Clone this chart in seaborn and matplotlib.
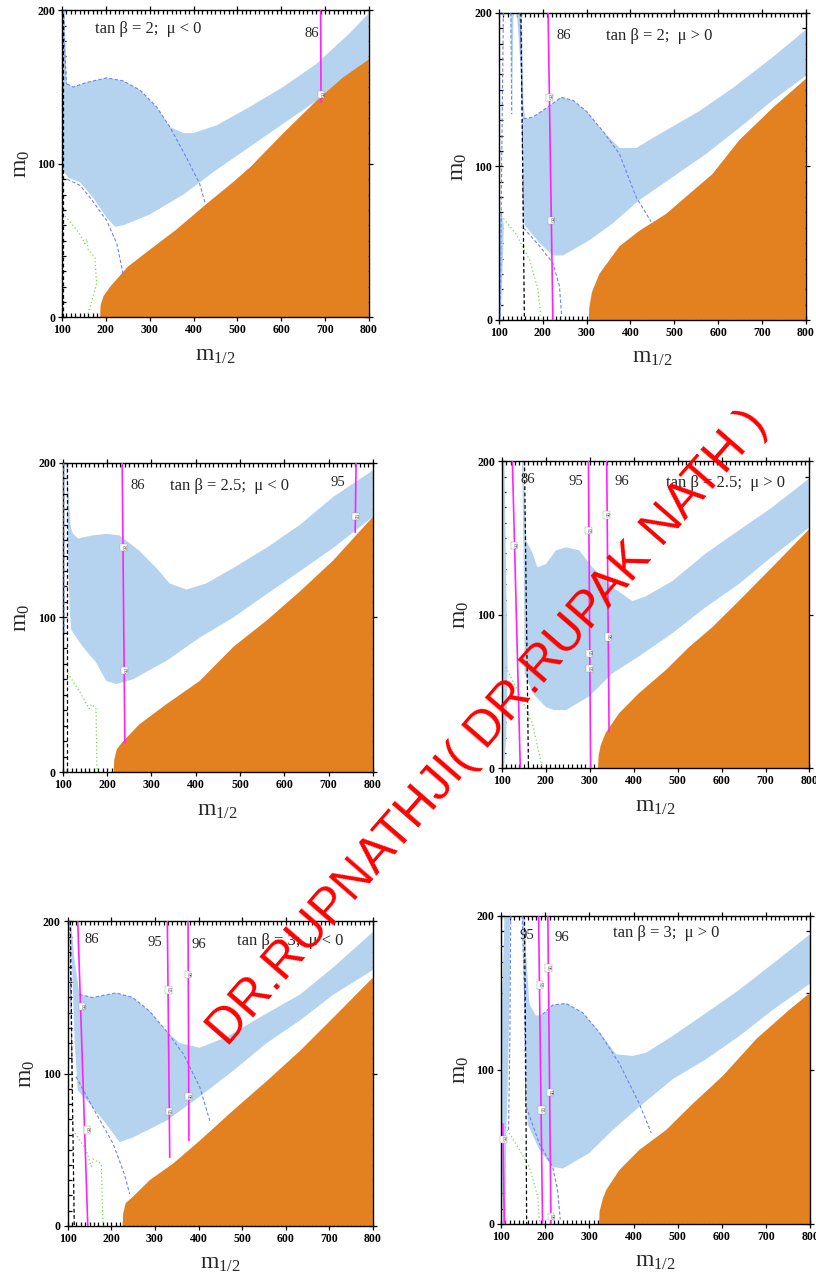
import matplotlib
matplotlib.use("Agg")
import matplotlib.pyplot as plt
from matplotlib.ticker import MultipleLocator
import seaborn as sns

sns.set_style("ticks")
plt.rcParams['font.family'] = ['Liberation Serif', 'DejaVu Serif']
plt.rcParams['mathtext.fontset'] = 'custom'
plt.rcParams['mathtext.rm'] = 'Liberation Serif'
plt.rcParams['mathtext.it'] = 'Liberation Serif:italic'

ORANGE = '#e38020'
BLUE = '#b5d3ee'
DASH_BLUE = '#6f82f0'
GREEN = '#77dd44'
MAGENTA = '#ff22ff'

# ---------------- panel 1 : tan b = 2, mu < 0 ----------------
p1_title = 'tan β = 2;  μ < 0'
p1_orange_x = [187, 188, 195, 210, 250, 300, 360, 430, 490, 530, 605, 680, 740, 800]
p1_orange_y = [0, 8, 14, 20, 33, 44, 57, 74, 88, 98, 120, 141, 156, 168]
p1_band_top_x = [100, 105, 108, 111, 126, 156, 202, 240, 278, 316, 346, 377, 400, 452, 528, 604, 680, 756, 800]
p1_band_top_y = [200, 200, 175, 152, 150, 153, 156, 154, 148, 137, 124, 120, 120, 125, 137, 150, 165, 185, 198]
p1_band_bot_x = [800, 756, 680, 604, 528, 452, 377, 300, 240, 221, 202, 171, 141, 114, 104, 100]
p1_band_bot_y = [167, 159, 141, 126, 111, 96, 80, 67, 60, 59, 65, 78, 88, 91, 95, 100]
p1_extra_x = []
p1_extra_y = []
p1_dash_x = [[111, 126, 156, 202, 240, 278, 316, 346, 384, 414, 426],
             [112, 141, 164, 202, 225, 241],
             [104, 106, 110]]
p1_dash_y = [[152, 150, 153, 156, 154, 148, 137, 124, 104, 87, 75],
             [90, 86, 78, 63, 48, 26],
             [200, 175, 152]]
p1_green_x = [107, 125, 141, 152, 156, 160, 175, 179, 164, 158]
p1_green_y = [66, 60, 54, 48, 51, 44, 39, 22, 7, 1]
p1_black_x = [102, 102]
p1_black_y = [0, 200]
p1_mag_names = ['86']
p1_mag_x = [[690, 691]]
p1_mag_y = [[200, 140]]
p1_mark_x = [[690.5]]
p1_mark_y = [[145]]
p1_label_x = [669]
p1_label_y = [185]
p1_title_xy = (297, 188)

# ---------------- panel 2 : tan b = 2, mu > 0 ----------------
p2_title = 'tan β = 2;  μ > 0'
p2_orange_x = [305, 306, 312, 329, 375, 420, 481, 542, 587, 648, 724, 800]
p2_orange_y = [0, 8, 18, 30, 48, 58, 69, 84, 95, 117, 138, 157]
p2_band_top_x = [141, 152, 156, 160, 177, 208, 242, 269, 299, 337, 375, 413, 466, 557, 633, 724, 800]
p2_band_top_y = [200, 200, 140, 131, 132, 138, 145, 143, 136, 123, 112, 112, 121, 136, 151, 171, 189]
p2_band_bot_x = [800, 724, 648, 572, 496, 420, 360, 307, 246, 223, 193, 158, 156, 155, 148]
p2_band_bot_y = [159, 143, 125, 108, 93, 78, 63, 52, 42, 42, 50, 62, 70, 130, 170]
p2_extra_x = [[126, 133, 130], [100, 104, 109, 111, 106, 100]]
p2_extra_y = [[200, 200, 133], [0, 0, 40, 62, 70, 62]]
p2_dash_x = [[156, 177, 208, 242, 269, 299, 337, 375, 413, 447],
             [156, 193, 223, 238, 243],
             [110, 106, 103],
             [127, 129],
             [148, 153, 156]]
p2_dash_y = [[131, 132, 138, 145, 143, 136, 123, 108, 80, 64],
             [60, 48, 37, 22, 2],
             [200, 100, 0],
             [200, 134],
             [200, 140, 60]]
p2_green_x = [105, 139, 170, 189, 196]
p2_green_y = [68, 56, 39, 20, 1]
p2_black_x = [150, 154, 158]
p2_black_y = [200, 100, 0]
p2_mag_names = ['86']
p2_mag_x = [[212, 223]]
p2_mag_y = [[200, 0]]
p2_mark_x = [[215, 219]]
p2_mark_y = [[145, 65]]
p2_label_x = [247]
p2_label_y = [185]
p2_title_xy = (466, 185)

# ---------------- panel 3 : tan b = 2.5, mu < 0 ----------------
p3_title = 'tan β = 2.5;  μ < 0'
p3_orange_x = [215, 216, 222, 236, 273, 334, 409, 485, 560, 636, 711, 800]
p3_orange_y = [0, 8, 15, 20, 31, 44, 59, 81, 98, 117, 137, 165]
p3_band_top_x = [109, 114, 118, 123, 134, 168, 198, 228, 273, 311, 341, 379, 424, 485, 560, 636, 711, 800]
p3_band_top_y = [200, 175, 158, 154, 151, 153, 154, 153, 143, 132, 122, 118, 122, 132, 145, 160, 178, 195]
p3_band_bot_x = [800, 711, 636, 560, 485, 409, 334, 258, 221, 198, 175, 145, 119, 115, 112, 108]
p3_band_bot_y = [165, 145, 130, 115, 100, 87, 72, 60, 57, 59, 71, 81, 92, 107, 140, 200]
p3_extra_x = []
p3_extra_y = []
p3_dash_x = [[102, 103]]
p3_dash_y = [[200, 90]]
p3_green_x = [111, 138, 154, 159, 165, 175, 177]
p3_green_y = [64, 52, 44, 41, 44, 41, 1]
p3_black_x = [110, 110]
p3_black_y = [0, 200]
p3_mag_names = ['86', '95']
p3_mag_x = [[234, 240], [762, 760]]
p3_mag_y = [[200, 19], [200, 155]]
p3_mark_x = [[236.5, 239], [761]]
p3_mark_y = [[145, 65.6], [165]]
p3_label_x = [270, 722]
p3_label_y = [185, 187]
p3_title_xy = (477, 185)

# ---------------- panel 4 : tan b = 2.5, mu > 0 ----------------
p4_title = 'tan β = 2.5;  μ > 0'
p4_orange_x = [319, 320, 325, 336, 367, 412, 473, 526, 579, 639, 715, 800]
p4_orange_y = [0, 8, 15, 23, 36, 49, 64, 79, 92, 109, 131, 156]
p4_band_top_x = [143, 149, 156, 170, 181, 200, 223, 246, 276, 306, 352, 397, 427, 488, 564, 639, 715, 800]
p4_band_top_y = [200, 200, 148, 140, 131, 133, 142, 144, 142, 131, 118, 109, 112, 122, 140, 155, 170, 189]
p4_band_bot_x = [800, 715, 639, 564, 488, 412, 352, 299, 246, 219, 200, 170, 152, 150, 146]
p4_band_bot_y = [157, 138, 120, 105, 88, 73, 62, 47, 38, 38, 40, 49, 62, 127, 200]
p4_extra_x = [[100, 106, 110, 113, 110, 105, 100]]
p4_extra_y = [[200, 200, 120, 65, 20, 0, 0]]
p4_dash_x = []
p4_dash_y = []
p4_green_x = [109, 139, 170, 192]
p4_green_y = [66, 49, 29, 0]
p4_black_x = [151.5, 156, 160.6]
p4_black_y = [200, 100, 0]
p4_mag_names = ['86', '95', '96']
p4_mag_x = [[124, 142], [297, 302], [338.6, 344]]
p4_mag_y = [[200, 0], [200, 0], [200, 24]]
p4_mark_x = [[128], [297.7, 298.5, 299], [338.6, 341.7]]
p4_mark_y = [[145], [155, 75, 65], [165, 85.6]]
p4_label_x = [158, 268, 373]
p4_label_y = [188, 187, 187]
p4_title_xy = (609, 186)

# ---------------- panel 5 : tan b = 3, mu < 0 ----------------
p5_title = 'tan β = 3;  μ < 0'
p5_orange_x = [226, 227, 233, 249, 288, 342, 403, 480, 556, 633, 710, 800]
p5_orange_y = [0, 8, 15, 19, 30, 41, 56, 76, 95, 115, 137, 163]
p5_band_top_x = [108, 115, 127, 157, 211, 249, 288, 326, 357, 403, 464, 541, 633, 710, 800]
p5_band_top_y = [200, 176, 152, 150, 153, 150, 141, 128, 120, 117, 124, 137, 152, 170, 193]
p5_band_bot_x = [800, 710, 633, 556, 480, 403, 326, 249, 219, 188, 157, 123, 116, 110, 104]
p5_band_bot_y = [168, 152, 135, 120, 102, 85, 69, 58, 55, 67, 78, 89, 120, 170, 200]
p5_extra_x = []
p5_extra_y = []
p5_dash_x = [[127, 157, 211, 249, 288, 326, 365, 403, 426],
             [119, 157, 204, 230, 242],
             [104, 107, 110]]
p5_dash_y = [[152, 150, 153, 150, 141, 128, 113, 91, 69],
             [98, 78, 54, 34, 21],
             [200, 150, 98]]
p5_green_x = [112, 142, 154, 158, 162, 172, 177, 181]
p5_green_y = [63, 50, 39, 44, 43, 42, 40, 0]
p5_black_x = [106, 110, 115]
p5_black_y = [200, 100, 0]
p5_mag_names = ['86', '95', '96']
p5_mag_x = [[123, 146], [328.5, 334], [376, 378]]
p5_mag_y = [[200, 0], [200, 45], [200, 56]]
p5_mark_x = [[133, 144], [331, 332], [376, 377.6]]
p5_mark_y = [[144, 63], [155, 75], [165, 85]]
p5_label_x = [154, 299, 401]
p5_label_y = [188, 186, 185]
p5_title_xy = (610, 187)

# ---------------- panel 6 : tan b = 3, mu > 0 ----------------
p6_title = 'tan β = 3;  μ > 0'
p6_orange_x = [322, 323, 330, 338, 368, 413, 474, 534, 602, 678, 753, 800]
p6_orange_y = [0, 8, 16, 22, 35, 48, 61, 78, 96, 120, 139, 150]
p6_band_top_x = [147, 153, 157, 164, 179, 194, 217, 247, 285, 323, 361, 398, 428, 489, 565, 640, 716, 800]
p6_band_top_y = [200, 200, 174, 143, 135, 136, 142, 143, 137, 124, 110, 109, 111, 122, 137, 152, 169, 188]
p6_band_bot_x = [800, 716, 640, 565, 489, 413, 353, 300, 240, 217, 187, 160, 157, 152]
p6_band_bot_y = [156, 139, 122, 107, 94, 76, 61, 46, 36, 37, 48, 65, 100, 150]
p6_extra_x = [[108, 120, 120, 116, 112, 110, 104, 101, 102]]
p6_extra_y = [[200, 200, 160, 100, 60, 0, 0, 60, 140]]
p6_dash_x = [[194, 217, 247, 285, 323, 368, 413, 440],
             [157, 187, 217, 228, 234],
             [122, 120, 117],
             [148, 153, 156]]
p6_dash_y = [[136, 142, 143, 137, 124, 104, 78, 59],
             [76, 52, 37, 22, 3],
             [200, 120, 60],
             [200, 150, 76]]
p6_green_x = [104, 134, 164, 183, 187]
p6_green_y = [65, 52, 37, 18, 1]
p6_black_x = [153, 156, 158]
p6_black_y = [200, 100, 0]
p6_mag_names = ['86', '95', '96']
p6_mag_x = [[104, 107.5], [185, 194], [206, 213]]
p6_mag_y = [[65, 0], [200, 0], [200, 0]]
p6_mark_x = [[105], [188, 192], [208, 211, 213]]
p6_mark_y = [[55], [155, 74], [166, 85, 5]]
p6_label_x = [None, 158, 237.5]
p6_label_y = [None, 187, 186]
p6_title_xy = (474, 189)

panels = [
    dict(title=p1_title, ox=p1_orange_x, oy=p1_orange_y, tx=p1_band_top_x, ty=p1_band_top_y,
         bx=p1_band_bot_x, by=p1_band_bot_y, ex=p1_extra_x, ey=p1_extra_y, dx=p1_dash_x, dy=p1_dash_y,
         gx=p1_green_x, gy=p1_green_y, kx=p1_black_x, ky=p1_black_y, names=p1_mag_names,
         mx=p1_mag_x, my=p1_mag_y, sx=p1_mark_x, sy=p1_mark_y, lx=p1_label_x, ly=p1_label_y,
         txy=p1_title_xy, rect=[0.076, 0.753, 0.376, 0.239]),
    dict(title=p2_title, ox=p2_orange_x, oy=p2_orange_y, tx=p2_band_top_x, ty=p2_band_top_y,
         bx=p2_band_bot_x, by=p2_band_bot_y, ex=p2_extra_x, ey=p2_extra_y, dx=p2_dash_x, dy=p2_dash_y,
         gx=p2_green_x, gy=p2_green_y, kx=p2_black_x, ky=p2_black_y, names=p2_mag_names,
         mx=p2_mag_x, my=p2_mag_y, sx=p2_mark_x, sy=p2_mark_y, lx=p2_label_x, ly=p2_label_y,
         txy=p2_title_xy, rect=[0.6115, 0.751, 0.376, 0.239]),
    dict(title=p3_title, ox=p3_orange_x, oy=p3_orange_y, tx=p3_band_top_x, ty=p3_band_top_y,
         bx=p3_band_bot_x, by=p3_band_bot_y, ex=p3_extra_x, ey=p3_extra_y, dx=p3_dash_x, dy=p3_dash_y,
         gx=p3_green_x, gy=p3_green_y, kx=p3_black_x, ky=p3_black_y, names=p3_mag_names,
         mx=p3_mag_x, my=p3_mag_y, sx=p3_mark_x, sy=p3_mark_y, lx=p3_label_x, ly=p3_label_y,
         txy=p3_title_xy, rect=[0.077, 0.399, 0.38, 0.241]),
    dict(title=p4_title, ox=p4_orange_x, oy=p4_orange_y, tx=p4_band_top_x, ty=p4_band_top_y,
         bx=p4_band_bot_x, by=p4_band_bot_y, ex=p4_extra_x, ey=p4_extra_y, dx=p4_dash_x, dy=p4_dash_y,
         gx=p4_green_x, gy=p4_green_y, kx=p4_black_x, ky=p4_black_y, names=p4_mag_names,
         mx=p4_mag_x, my=p4_mag_y, sx=p4_mark_x, sy=p4_mark_y, lx=p4_label_x, ly=p4_label_y,
         txy=p4_title_xy, rect=[0.615, 0.402, 0.377, 0.239]),
    dict(title=p5_title, ox=p5_orange_x, oy=p5_orange_y, tx=p5_band_top_x, ty=p5_band_top_y,
         bx=p5_band_bot_x, by=p5_band_bot_y, ex=p5_extra_x, ey=p5_extra_y, dx=p5_dash_x, dy=p5_dash_y,
         gx=p5_green_x, gy=p5_green_y, kx=p5_black_x, ky=p5_black_y, names=p5_mag_names,
         mx=p5_mag_x, my=p5_mag_y, sx=p5_mark_x, sy=p5_mark_y, lx=p5_label_x, ly=p5_label_y,
         txy=p5_title_xy, rect=[0.083, 0.046, 0.374, 0.237]),
    dict(title=p6_title, ox=p6_orange_x, oy=p6_orange_y, tx=p6_band_top_x, ty=p6_band_top_y,
         bx=p6_band_bot_x, by=p6_band_bot_y, ex=p6_extra_x, ey=p6_extra_y, dx=p6_dash_x, dy=p6_dash_y,
         gx=p6_green_x, gy=p6_green_y, kx=p6_black_x, ky=p6_black_y, names=p6_mag_names,
         mx=p6_mag_x, my=p6_mag_y, sx=p6_mark_x, sy=p6_mark_y, lx=p6_label_x, ly=p6_label_y,
         txy=p6_title_xy, rect=[0.614, 0.0475, 0.379, 0.240]),
]


def draw_panel(ax, p):
    # orange excluded region: fill under the boundary, out to the right edge
    ax.fill(p['ox'] + [800], p['oy'] + [0], color=ORANGE, lw=0, zorder=2)
    # light blue allowed band (top edge then bottom edge)
    ax.fill(p['tx'] + p['bx'], p['ty'] + p['by'], color=BLUE, lw=0, zorder=1)
    for ex, ey in zip(p['ex'], p['ey']):
        ax.fill(ex, ey, color=BLUE, lw=0, zorder=1)
    for dx, dy in zip(p['dx'], p['dy']):
        sns.lineplot(x=dx, y=dy, sort=False, estimator=None, ax=ax, color=DASH_BLUE,
                     lw=0.8, linestyle=(0, (3, 2)), zorder=3)
    sns.lineplot(x=p['gx'], y=p['gy'], sort=False, estimator=None, ax=ax, color=GREEN,
                 lw=0.9, linestyle=(0, (1, 2)), zorder=3)
    sns.lineplot(x=p['kx'], y=p['ky'], sort=False, estimator=None, ax=ax, color='black',
                 lw=0.9, linestyle=(0, (3, 2)), zorder=3)
    for name, mx, my, sx, sy, lx, ly in zip(p['names'], p['mx'], p['my'], p['sx'], p['sy'],
                                            p['lx'], p['ly']):
        sns.lineplot(x=mx, y=my, sort=False, estimator=None, ax=ax, color=MAGENTA,
                     lw=1.2, zorder=4)
        for x, y in zip(sx, sy):
            ax.text(x, y, name, fontsize=4, rotation=270, ha='center', va='center',
                    color='#555555', zorder=5,
                    bbox=dict(boxstyle='square,pad=0.15', fc='white', ec='#999999', lw=0.3))
        if lx is not None:
            ax.text(lx, ly, name, fontsize=10.5, ha='center', va='center', zorder=5)
    ax.text(p['txy'][0], p['txy'][1], p['title'], fontsize=12, ha='center', va='center', zorder=5)

    ax.set_xlim(100, 800)
    ax.set_ylim(0, 200)
    ax.xaxis.set_major_locator(MultipleLocator(100))
    ax.xaxis.set_minor_locator(MultipleLocator(10))
    ax.yaxis.set_major_locator(MultipleLocator(100))
    ax.yaxis.set_minor_locator(MultipleLocator(10))
    ax.tick_params(which='both', top=True, right=True, width=0.9, colors='black')
    ax.tick_params(which='major', direction='inout', length=6, pad=2)
    ax.tick_params(which='minor', direction='in', length=3)
    for lab in ax.get_xticklabels() + ax.get_yticklabels():
        lab.set_fontweight('bold')
        lab.set_fontsize(8.5)
    for sp in ax.spines.values():
        sp.set_visible(True)
        sp.set_color('black')
        sp.set_linewidth(1.0)
    ax.set_xlabel(r'$\mathrm{m}_{1/2}$', fontsize=17, labelpad=6)
    ax.set_ylabel(r'$\mathrm{m}_{0}$', fontsize=17, labelpad=4)


fig = plt.figure(figsize=(8.16, 12.85), dpi=100)
for p in panels:
    ax = fig.add_axes(p['rect'])
    ax.set_facecolor('white')
    draw_panel(ax, p)

fig.text(0.598, 0.4335, 'DR.RUPNATHJI( DR.RUPAK NATH )', rotation=49, rotation_mode='anchor',
         ha='center', va='center', color='red', fontsize=36, family='Liberation Sans', zorder=10)

fig.savefig('out.png', dpi=100, facecolor='white')
